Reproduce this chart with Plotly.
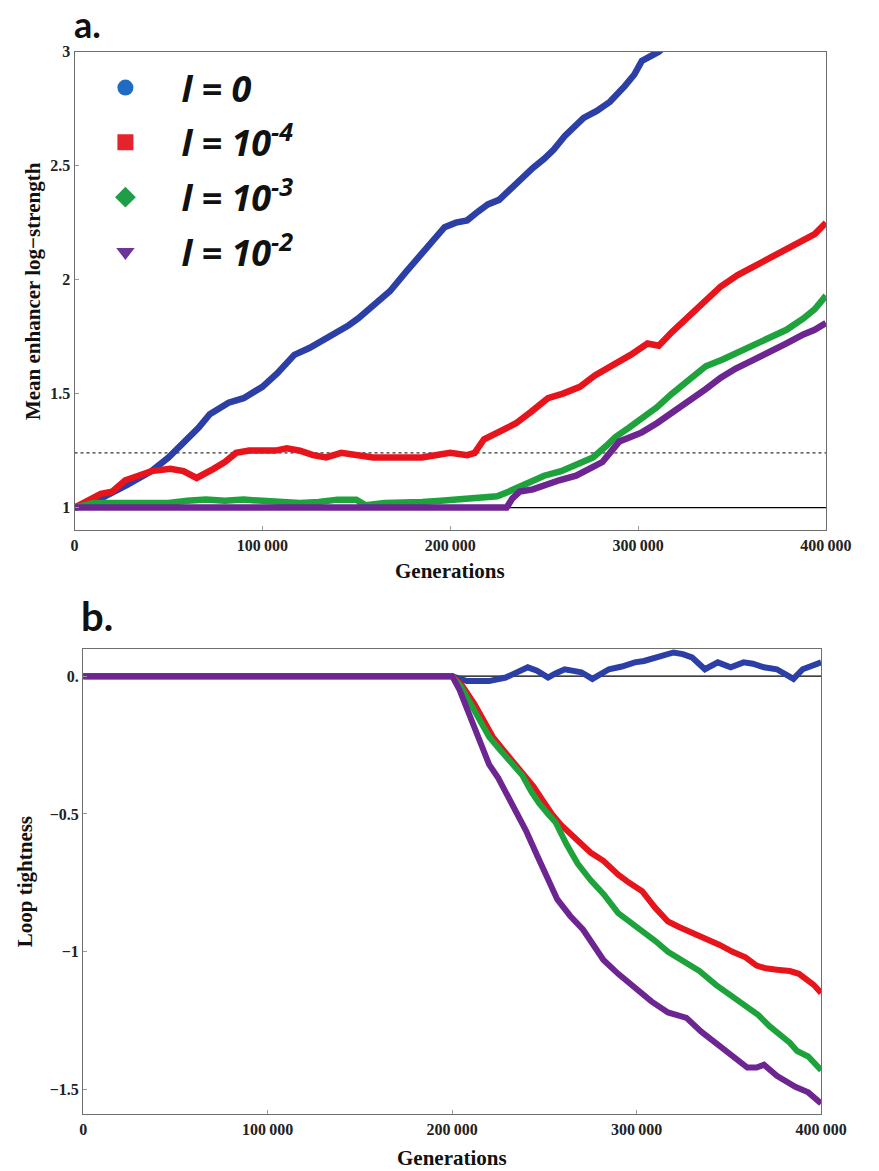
import plotly.graph_objects as go

# ---------------- Panel a: mean enhancer log-strength ----------------
a_blue_gen = [0, 14000, 28000, 41000, 50000, 60000, 66000, 72000, 82000, 90000, 100000, 108000, 117000,
              125000, 134000, 146000, 151000, 157000, 163000, 168000, 176000, 184000, 191000, 197000,
              203000, 209000, 215000, 220000, 226000, 231000, 237000, 244000, 250000, 255000, 261000,
              266000, 271000, 278000, 285000, 293000, 298000, 302000, 306000, 311000, 318000]
a_blue_val = [1.00, 1.04, 1.10, 1.16, 1.22, 1.30, 1.35, 1.41, 1.46, 1.48, 1.53, 1.59, 1.67,
              1.70, 1.74, 1.80, 1.83, 1.87, 1.91, 1.95, 2.03, 2.11, 2.17, 2.23,
              2.25, 2.26, 2.30, 2.33, 2.35, 2.39, 2.43, 2.49, 2.53, 2.57, 2.63,
              2.67, 2.71, 2.74, 2.78, 2.85, 2.90, 2.96, 2.98, 3.00, 3.05]

a_red_gen = [0, 8000, 14000, 20000, 27000, 34000, 41000, 51000, 58000, 65000, 70000, 74000, 80000,
             86000, 93000, 100000, 107000, 113000, 120000, 127000, 134000, 142000, 150000, 159000,
             170000, 185000, 192000, 200000, 209000, 213000, 218000, 226000, 235000, 243000, 252000,
             260000, 269000, 277000, 286000, 296000, 305000, 311000, 318000, 327000, 336000, 344000,
             353000, 362000, 370000, 379000, 388000, 394000, 400000]
a_red_val = [1.00, 1.03, 1.06, 1.07, 1.12, 1.14, 1.16, 1.17, 1.16, 1.13, 1.15, 1.17, 1.20,
             1.24, 1.25, 1.25, 1.25, 1.26, 1.25, 1.23, 1.22, 1.24, 1.23, 1.22,
             1.22, 1.22, 1.23, 1.24, 1.23, 1.24, 1.30, 1.33, 1.37, 1.42, 1.48,
             1.50, 1.53, 1.58, 1.62, 1.67, 1.72, 1.71, 1.77, 1.84, 1.91, 1.97,
             2.02, 2.06, 2.09, 2.13, 2.17, 2.20, 2.25]

a_green_gen = [0, 10000, 20000, 30000, 40000, 50000, 60000, 70000, 80000, 90000, 100000, 110000,
               120000, 130000, 140000, 150000, 155000, 165000, 175000, 185000, 195000, 205000,
               215000, 225000, 231000, 241000, 250000, 259000, 268000, 276000, 283000, 288000,
               295000, 302000, 310000, 318000, 327000, 336000, 345000, 353000, 362000, 370000,
               379000, 388000, 394000, 400000]
a_green_val = [1.00, 1.02, 1.02, 1.02, 1.015, 1.02, 1.03, 1.035, 1.03, 1.035, 1.03, 1.025,
               1.02, 1.025, 1.035, 1.035, 1.01, 1.02, 1.02, 1.025, 1.03, 1.035,
               1.045, 1.05, 1.07, 1.11, 1.14, 1.16, 1.19, 1.22, 1.27, 1.31,
               1.35, 1.39, 1.44, 1.50, 1.56, 1.62, 1.65, 1.68, 1.71, 1.74,
               1.78, 1.83, 1.87, 1.93]

a_purple_gen = [0, 50000, 100000, 150000, 200000, 230000, 233000, 237000, 244000, 250000, 258000,
                267000, 275000, 281000, 286000, 290000, 296000, 302000, 310000, 319000, 324000,
                329000, 336000, 344000, 352000, 362000, 370000, 379000, 388000, 394000, 400000]
a_purple_val = [1.00, 1.00, 1.00, 1.00, 1.00, 1.00, 1.04, 1.07, 1.08, 1.10, 1.12,
                1.14, 1.17, 1.20, 1.25, 1.29, 1.31, 1.33, 1.37, 1.42, 1.45,
                1.48, 1.52, 1.57, 1.61, 1.65, 1.68, 1.72, 1.76, 1.78, 1.81]

a_baseline = 1.0
a_threshold = 1.24

# ---------------- Panel b: loop tightness ----------------
b_blue_gen = [0, 200000, 208000, 220000, 229000, 235000, 241000, 246000, 252000, 256000, 261000,
              265000, 270000, 276000, 280000, 285000, 292000, 299000, 304000, 310000, 315000,
              320000, 325000, 330000, 337000, 344000, 351000, 358000, 363000, 369000, 376000,
              380000, 385000, 390000, 395000, 400000]
b_blue_val = [0, 0, -0.018, -0.018, -0.005, 0.015, 0.032, 0.02, -0.005, 0.01, 0.025,
              0.02, 0.014, -0.01, 0.005, 0.025, 0.035, 0.05, 0.055, 0.068, 0.075,
              0.086, 0.08, 0.068, 0.025, 0.05, 0.032, 0.05, 0.045, 0.032, 0.025,
              0.01, -0.01, 0.025, 0.04, 0.05]

b_red_gen = [0, 200000, 205000, 212000, 217000, 222000, 228000, 233000, 238000, 244000, 249000,
             254000, 259000, 264000, 270000, 275000, 282000, 290000, 296000, 303000, 310000,
             317000, 323000, 330000, 337000, 345000, 352000, 359000, 365000, 370000, 376000,
             383000, 388000, 392000, 396000, 400000]
b_red_val = [0, 0, -0.03, -0.10, -0.16, -0.22, -0.27, -0.31, -0.35, -0.40, -0.45,
             -0.50, -0.54, -0.57, -0.61, -0.64, -0.67, -0.72, -0.75, -0.78, -0.84,
             -0.89, -0.91, -0.93, -0.95, -0.975, -1.0, -1.02, -1.05, -1.06, -1.065,
             -1.07, -1.08, -1.10, -1.12, -1.15]

b_green_gen = [0, 200000, 205000, 212000, 216000, 220000, 225000, 229000, 234000, 238000, 243000,
               247000, 252000, 256000, 262000, 268000, 275000, 282000, 290000, 296000, 303000,
               310000, 317000, 325000, 334000, 343000, 351000, 358000, 366000, 372000, 378000,
               383000, 387000, 393000, 400000]
b_green_val = [0, 0, -0.04, -0.125, -0.18, -0.22, -0.26, -0.29, -0.33, -0.36, -0.42,
               -0.46, -0.50, -0.53, -0.61, -0.68, -0.74, -0.79, -0.86, -0.89, -0.92,
               -0.96, -1.0, -1.03, -1.07, -1.12, -1.16, -1.19, -1.23, -1.27, -1.30,
               -1.33, -1.36, -1.38, -1.43]

b_purple_gen = [0, 200000, 204000, 208000, 212000, 216000, 220000, 225000, 229000, 234000, 240000,
                246000, 251000, 257000, 264000, 271000, 276000, 282000, 290000, 299000, 308000,
                317000, 322000, 327000, 335000, 343000, 351000, 360000, 365000, 369000, 376000,
                386000, 393000, 400000]
b_purple_val = [0, 0, -0.05, -0.12, -0.18, -0.26, -0.32, -0.37, -0.42, -0.49, -0.56,
                -0.65, -0.72, -0.81, -0.87, -0.92, -0.97, -1.03, -1.08, -1.13, -1.18,
                -1.22, -1.23, -1.24, -1.29, -1.33, -1.37, -1.42, -1.42, -1.41, -1.45,
                -1.49, -1.51, -1.55]

b_baseline = 0.0

# ---------------- ticks / labels ----------------
x_tickvals = [0, 100000, 200000, 300000, 400000]
x_ticktext = ["0", "100\u2009000", "200\u2009000", "300\u2009000", "400\u2009000"]
a_tickvals = [1, 1.5, 2, 2.5, 3]
a_ticktext = ["1", "1.5", "2", "2.5", "3"]
b_tickvals = [0, -0.5, -1, -1.5]
b_ticktext = ["0.", "\u22120.5", "\u22121", "\u22121.5"]

legend_names = ["<i>l</i> = 0", "<i>l</i> = 10<sup>-4</sup>", "<i>l</i> = 10<sup>-3</sup>",
                "<i>l</i> = 10<sup>-2</sup>"]
legend_symbols = ["circle", "square", "diamond", "triangle-down"]
legend_colors = ["#1f6cc2", "#e5232a", "#1f9d48", "#6b369a"]
line_colors = ["#2b3fa6", "#e8141c", "#1ea33c", "#6d2591"]

fig = go.Figure()

series_a = [(a_blue_gen, a_blue_val), (a_red_gen, a_red_val),
            (a_green_gen, a_green_val), (a_purple_gen, a_purple_val)]
series_b = [(b_blue_gen, b_blue_val), (b_red_gen, b_red_val),
            (b_green_gen, b_green_val), (b_purple_gen, b_purple_val)]

for (gx, gy), col in zip(series_a, line_colors):
    fig.add_trace(go.Scatter(x=gx, y=gy, mode="lines", line=dict(color=col, width=6.5),
                             xaxis="x", yaxis="y", showlegend=False, hoverinfo="skip"))
for (gx, gy), col in zip(series_b, line_colors):
    fig.add_trace(go.Scatter(x=gx, y=gy, mode="lines", line=dict(color=col, width=6),
                             xaxis="x2", yaxis="y2", showlegend=False, hoverinfo="skip"))

# legend entries
for i, (nm, sym, col) in enumerate(zip(legend_names, legend_symbols, legend_colors)):
    fig.add_trace(go.Scatter(x=[None], y=[None], mode="markers", name="\u2003" + nm,
                             marker=dict(symbol=sym, color=col, size=16),
                             xaxis="x", yaxis="y", legendgroup=str(i), showlegend=True))

# reference lines
fig.add_hline(y=a_baseline, line=dict(color="black", width=1.3), layer="below", xref="x", yref="y")
fig.add_hline(y=a_threshold, line=dict(color="#333333", width=1.3, dash="dot"), layer="below",
              xref="x", yref="y")
fig.add_shape(type="line", xref="x2 domain", yref="y2", x0=0, x1=1, y0=b_baseline, y1=b_baseline,
              line=dict(color="black", width=1.3), layer="below")

tickfont = dict(family="Liberation Serif", size=16, color="#222222", weight="bold")
axis_common = dict(showline=True, linecolor="#6e6e6e", linewidth=1.3, mirror=True,
                   ticks="inside", ticklen=4, tickcolor="#9a9a9a", tickwidth=1,
                   showgrid=False, zeroline=False, tickfont=tickfont)

fig.update_layout(
    width=879, height=1171,
    margin=dict(l=0, r=0, t=0, b=0),
    paper_bgcolor="white", plot_bgcolor="white",
    xaxis=dict(domain=[73 / 879, 851 / 879], range=[0, 400000], anchor="y",
               tickvals=x_tickvals, ticktext=x_ticktext, **axis_common),
    yaxis=dict(domain=[1 - 526 / 1171, 1 - 44 / 1171], range=[0.9, 3], anchor="x",
               tickvals=a_tickvals, ticktext=a_ticktext, **axis_common),
    xaxis2=dict(domain=[82 / 879, 846 / 879], range=[0, 400000], anchor="y2",
                tickvals=x_tickvals, ticktext=x_ticktext, **axis_common),
    yaxis2=dict(domain=[1 - 1114 / 1171, 1 - 645 / 1171], range=[-1.59, 0.1], anchor="x2",
                tickvals=b_tickvals, ticktext=b_ticktext, **axis_common),
    legend=dict(x=105 / 879, y=1 - 50 / 1171, xanchor="left", yanchor="top",
                bgcolor="rgba(0,0,0,0)", tracegroupgap=5,
                font=dict(family="Open Sans", size=36, color="#111111", weight="bold", style="italic")),
    showlegend=True,
)

title_font = dict(family="Liberation Serif", size=21, color="#111111", weight="bold")
fig.add_annotation(text="a.", x=70 / 879, y=1 - 16 / 1171, xref="paper", yref="paper",
                   xanchor="left", yanchor="middle", showarrow=False,
                   font=dict(family="Lato", size=36, color="#111111", weight="bold"))
fig.add_annotation(text="b.", x=78 / 879, y=1 - 612 / 1171, xref="paper", yref="paper",
                   xanchor="left", yanchor="middle", showarrow=False,
                   font=dict(family="Lato", size=40, color="#111111", weight="bold"))
fig.add_annotation(text="Generations", x=462 / 879, y=1 - 567 / 1171, xref="paper", yref="paper",
                   xanchor="center", yanchor="middle", showarrow=False, font=title_font)
fig.add_annotation(text="Generations", x=464 / 879, y=1 - 1158 / 1171, xref="paper", yref="paper",
                   xanchor="center", yanchor="middle", showarrow=False, font=title_font)
fig.add_annotation(text="Mean enhancer log\u2212strength", x=30 / 879, y=1 - 285 / 1171,
                   xref="paper", yref="paper", textangle=-90, xanchor="center", yanchor="middle",
                   showarrow=False, font=title_font)
fig.add_annotation(text="Loop tightness", x=22 / 879, y=1 - 880 / 1171,
                   xref="paper", yref="paper", textangle=-90, xanchor="center", yanchor="middle",
                   showarrow=False, font=title_font)

fig.write_html("out.html")
